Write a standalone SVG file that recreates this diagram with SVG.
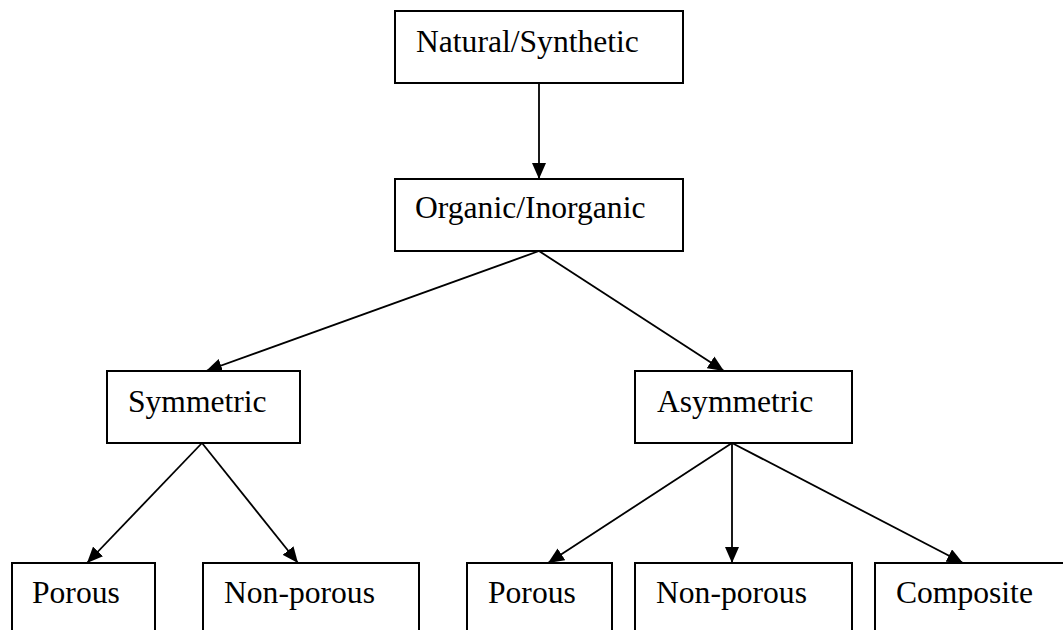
<svg xmlns="http://www.w3.org/2000/svg" width="1063" height="630" viewBox="0 0 1063 630">
<style>
.box{fill:#fff;stroke:#000;stroke-width:2}
.lbl{font-family:"Liberation Serif","Times New Roman",serif;font-size:31.6px;fill:#000}
.edge{stroke:#000;stroke-width:1.8;fill:none;marker-end:url(#ah)}
</style>
<defs>
<marker id="ah" viewBox="0 0 16 14" refX="16" refY="7" markerWidth="16" markerHeight="14" markerUnits="userSpaceOnUse" orient="auto">
<path d="M0,0 L16,7 L0,14 Z" fill="#000"/>
</marker>
</defs>
<rect width="1063" height="630" fill="#fff"/>
<g id="connectors">
<line class="edge" x1="539" y1="83" x2="539" y2="179"/>
<line class="edge" x1="539" y1="251" x2="206" y2="371"/>
<line class="edge" x1="539" y1="251" x2="724" y2="371"/>
<line class="edge" x1="202" y1="443" x2="87" y2="563"/>
<line class="edge" x1="202" y1="443" x2="298" y2="563"/>
<line class="edge" x1="732" y1="443" x2="548" y2="563"/>
<line class="edge" x1="732" y1="443" x2="732" y2="563"/>
<line class="edge" x1="732" y1="443" x2="963" y2="563"/>
</g>
<g id="natural">
<rect class="box" x="395" y="11" width="288" height="72"/>
<text class="lbl" x="416" y="52">Natural/Synthetic</text>
</g>
<g id="organic">
<rect class="box" x="395" y="179" width="288" height="72"/>
<text class="lbl" x="415" y="218">Organic/Inorganic</text>
</g>
<g id="symmetric">
<rect class="box" x="107" y="371" width="193" height="72"/>
<text class="lbl" x="128" y="412">Symmetric</text>
</g>
<g id="asymmetric">
<rect class="box" x="635" y="371" width="217" height="72"/>
<text class="lbl" x="657" y="412">Asymmetric</text>
</g>
<g id="sym-porous">
<rect class="box" x="12" y="563" width="143" height="80"/>
<text class="lbl" x="32" y="603">Porous</text>
</g>
<g id="sym-nonporous">
<rect class="box" x="203" y="563" width="216" height="80"/>
<text class="lbl" x="224" y="603">Non-porous</text>
</g>
<g id="asym-porous">
<rect class="box" x="467" y="563" width="145" height="80"/>
<text class="lbl" x="488" y="603">Porous</text>
</g>
<g id="asym-nonporous">
<rect class="box" x="635" y="563" width="217" height="80"/>
<text class="lbl" x="656" y="603">Non-porous</text>
</g>
<g id="composite">
<rect class="box" x="875" y="563" width="200" height="80"/>
<text class="lbl" x="896" y="603">Composite</text>
</g>
</svg>
